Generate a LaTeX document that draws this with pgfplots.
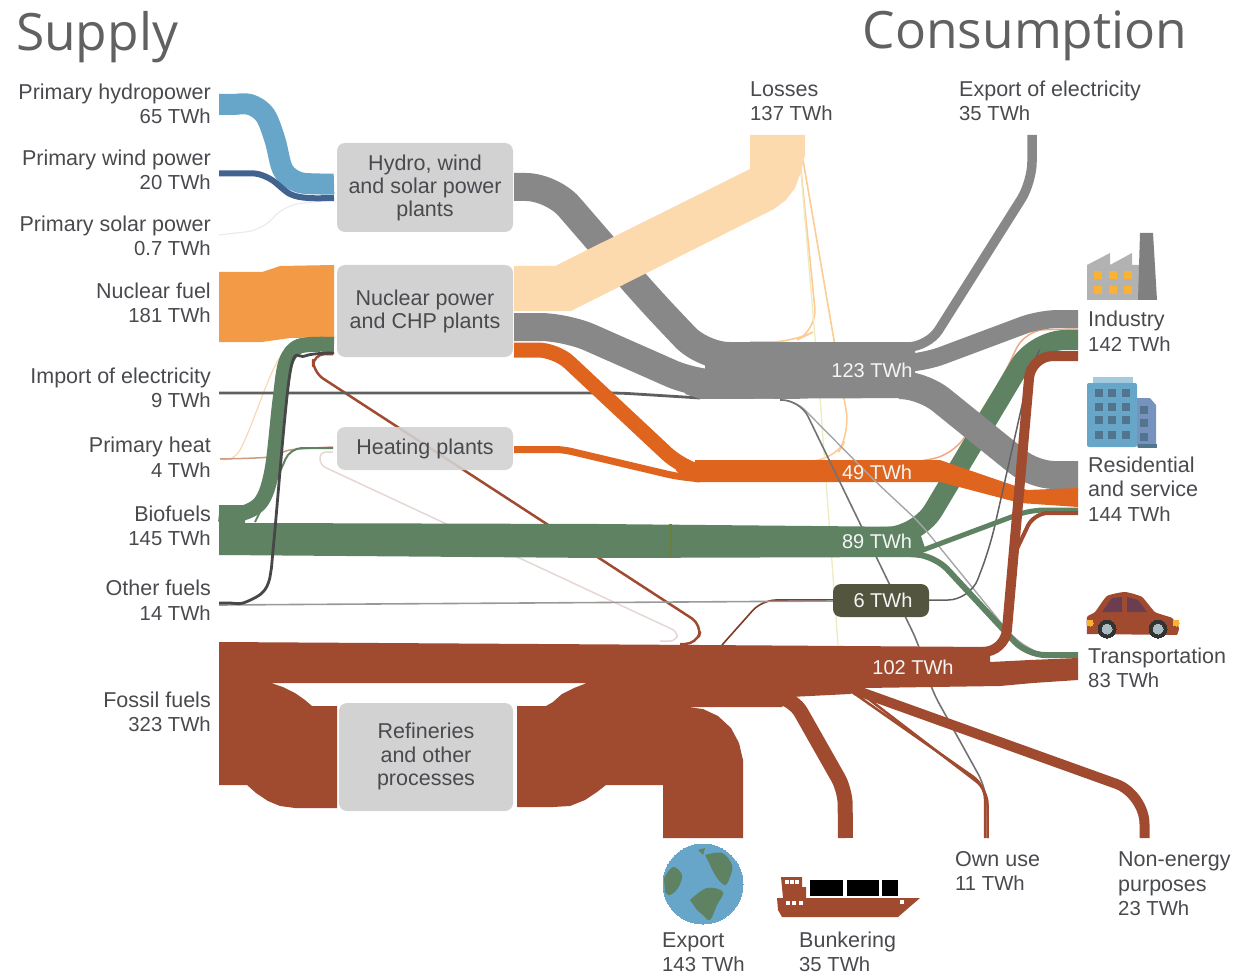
\documentclass[border=0pt]{standalone}
\usepackage{pgfplots}
\pgfplotsset{compat=1.18}
\usepackage{fontspec}
\setmainfont{Liberation Sans}
\newfontfamily\titlefont{Open Sans}
\definecolor{blueA}{HTML}{67A6C9}
\definecolor{blueB}{HTML}{42628F}
\definecolor{nuc}{HTML}{F29A46}
\definecolor{loss}{HTML}{FDD9AE}
\definecolor{gry}{HTML}{888888}
\definecolor{org}{HTML}{DF651F}
\definecolor{grn}{HTML}{5E8262}
\definecolor{brn}{HTML}{A04B30}
\definecolor{boxc}{HTML}{D2D2D2}
\definecolor{txt}{HTML}{484A4E}
\definecolor{six}{HTML}{54553F}
\definecolor{winA}{HTML}{F9B233}
\definecolor{winB}{HTML}{52758F}
\definecolor{sideB}{HTML}{7793BD}
\definecolor{carW}{HTML}{6B3D50}
\definecolor{wheelC}{HTML}{A9BCC2}
\pgfplotsset{
 fl/.style n args={3}{draw=#1,line width=#2pt,line cap=butt,line join=round,rounded corners=#3pt,fill=none},
 sm/.style n args={2}{draw=#1,line width=#2pt,line cap=butt,line join=round,smooth,tension=0.55,fill=none},
 pg/.style={fill=#1,draw=none},
 pr/.style n args={2}{fill=#1,draw=none,rounded corners=#2pt},
 dots/.style n args={2}{only marks,mark=square*,mark size=#2pt,mark options={fill=#1,draw=#1,line width=0pt}},
 disc/.style n args={2}{only marks,mark=*,mark size=#2pt,mark options={fill=#1,draw=#1,line width=0pt}},
}
\newcommand{\N}[1]{{\fontsize{20.3}{24.5}\selectfont #1}}
\tikzset{
 lab/.style={font=\fontsize{21.5}{24.5}\selectfont,text=txt,inner sep=0pt},
 ll/.style={lab,anchor=west,align=left},
 rl/.style={lab,anchor=east,align=right},
 cl/.style={font=\fontsize{21.5}{23.3}\selectfont,text=txt,inner sep=0pt,anchor=center,align=center},
 wl/.style={font=\fontsize{20}{24}\selectfont,text=white!92!gray,inner sep=0pt,anchor=center},
 tl/.style={font=\titlefont\fontsize{51.5}{54}\selectfont,text=black!62,inner sep=0pt,anchor=center},
}
\begin{document}
\begin{tikzpicture}
\begin{axis}[
 scale only axis,width=1258pt,height=976pt,
 xmin=0,xmax=1258,ymin=0,ymax=976,y dir=reverse,
 hide axis,clip mode=individual]
\path (axis cs:0,0) rectangle (axis cs:1258,976);
% faint lines
\addplot[fl={black!8}{1.2}{15}] coordinates {(219,235)(262,230)(285,205)(334,200)};
\addplot[fl={boxc!60!brn!40!white}{1.5}{6}] coordinates {(333,452)(320,452)(320,465)(678,632)(676,641)(660,641)};
\addplot[sm={nuc!40!white}{1.2}] coordinates {(220,459)(240,450)(273,370)(290,350)(333,345)};
% thin lines behind
\addplot[fl={loss!85!orange}{1.6}{22}] coordinates {(800,160)(817,330)(793,342)(750,342)};
\addplot[fl={loss!85!orange}{1.6}{22}] coordinates {(803,160)(850,433)(833,461)(807,461)};
\addplot[draw=yellow!55!gray!35!white,line width=1.3pt] coordinates {(800,160)(820,397)(838,645)};
\addplot[fl={org!55!white}{1.5}{20}] coordinates {(915,462)(953,455)(1003,377)(1025,330)(1078,329)};
\addplot[sm={org!55!gray!70!white}{1.5}] coordinates {(220,459)(270,457)(290,450)(333,447)};
\addplot[fl={brn}{2.5}{12}] coordinates {(333,354)(313,354)(313,372)(702,625)(697,644)(680,644)};
\addplot[fl={brn!80!black}{1.6}{14}] coordinates {(722,645)(762,600)(834,600)};
\addplot[draw=black!40,line width=1.6pt] coordinates {(219,605)(834,601)};
\addplot[fl={gry!70!black}{2.8}{10}] coordinates {(219,393)(620,393)(700,398)};
% hydro, wind
\addplot[sm={blueA}{21}] coordinates {(219,104.5)(232,104.5)(250,104.5)(265,115)(275,140)(283,170)(298,182)(320,184)(334,184)};
\addplot[sm={blueB}{6}] coordinates {(219,173.5)(230,173.5)(245,173.5)(258,174)(272,180)(290,194)(308,198)(334,198)};
% nuclear
\addplot[pg=nuc] coordinates {(219,272)(262,272)(280,266)(334,265)(334,337)(290,338)(262,342)(219,342)} -- cycle;
% green branch up (below gray)
\addplot[fl={grn}{20}{30}] coordinates {(880,537)(918,536)(1035,340)(1078,340)};
% gray flows
\addplot[fl={gry}{28}{26}] coordinates {(514,187)(552,187)(649,299)(703,356)(800,356)};
\addplot[fl={gry}{28}{26}] coordinates {(514,327)(566,327)(695,384)(800,385)};
\addplot[pg=gry] coordinates {(705,342)(915,342)(915,398)(700,399)(685,394)(705,370)} -- cycle;
\addplot[fl={gry}{9.5}{20}] coordinates {(1032,135)(1032,182)(928,347)(900,347)};
\addplot[fl={gry}{18}{18}] coordinates {(905,363)(925,362)(1040,319)(1078,319)};
\addplot[fl={gry}{28}{20}] coordinates {(900,385)(925,387)(1034,475)(1078,475)};
% losses
\addplot[pg=loss] coordinates {(514,266)(555,266)(750,169)(750,135)(805,135)(805,155)(801,172)(795,188)(786,200)(774,209)(571,311)(514,311)} -- cycle;
% orange
\addplot[fl={org}{15}{18}] coordinates {(514,350)(556,350)(680,466)(700,472)(800,472)};
\addplot[fl={org}{7}{8}] coordinates {(514,449.5)(563,449.5)(675,476)(700,479)};
\addplot[pg=org] coordinates {(695,460)(940,460)(960,467)(1027,490)(1078,488)(1078,507)(1020,503)(940,482)(695,482)} -- cycle;
% thin grays over the flows
\addplot[fl={black!35}{1.4}{14}] coordinates {(780,400)(795,400)(877,483)(920,523)(1015,640)(1040,654)};
\addplot[fl={black!55}{1.6}{18}] coordinates {(780,400)(800,400)(920,647)(930,687)(987,790)(988,838)};
\addplot[fl={black!62}{1.5}{22}] coordinates {(928,600)(970,600)(990,547)(1030,370)(1038,353)(1078,353)};
% green
\addplot[fl={grn}{2}{12}] coordinates {(255,522)(281,470)(290,448)(333,448)};
\addplot[fl={grn}{5}{14}] coordinates {(915,553)(1030,510)(1078,510)};
\addplot[fl={grn}{6}{18}] coordinates {(910,554)(935,556)(1027,655)(1078,655)};
\addplot[pg=grn] coordinates {(219,505)(245,505)(245,523)(600,524)(918,527)(925,548)(918,557)(600,558)(219,555)} -- cycle;
\addplot[sm={grn}{15}] coordinates {(219,514)(240,514)(261,502)(272,470)(280,400)(286,362)(300,346)(334,344.5)};
\addplot[pg=grn!60!olive] coordinates {(669,524)(672,524)(672,558)(669,558)} -- cycle;
% other fuels dark line
\addplot[sm={black!72}{2.8}] coordinates {(219,603)(230,603)(243,603)(262,593)(270,577)(274,540)(290,373)(305,356)(334,353)};
% brown
\addplot[fl={brn}{4}{14}] coordinates {(1014,555)(1034,513)(1078,513)};
\addplot[fl={brn}{15}{14}] coordinates {(770,695)(794,700)(845,790)(845.5,838)};
\addplot[fl={brn}{2.5}{14}] coordinates {(845,687)(985,785)(985,838)};
\addplot[fl={brn}{2.5}{14}] coordinates {(853,687)(987.5,790)(987.5,838)};
\addplot[fl={brn}{10}{30}] coordinates {(855,690)(1144.5,794)(1144.5,838)};
\addplot[fl={brn}{10}{22}] coordinates {(960,652)(1005,652)(1031,356)(1078,356)};
\addplot[pg=brn] coordinates {(219,642)(700,645)(990,647)(990,662)(1030,660)(1078,658)(1078,680)(1033,683)(1000,686)(865,688)(850,694)(790,697)(782,707)(687,707)(703,709)(718,716)(731,728)(739,743)(743,760)(743,838)(663,838)(663,785)(606,785)(597,792)(585,800)(570,806)(553,807)(517,807)(517,706)(546,706)(553,702)(562,694)(574,688)(587,683)(271,683)(283,687)(295,693)(305,700)(312,706)(337,706)(337,808)(295,808)(280,806)(268,801)(256,793)(247,785)(219,785)} -- cycle;
% boxes
\addplot[pr={boxc}{8}] coordinates {(425,143)(513,143)(513,232)(337,232)(337,143)} -- cycle;
\addplot[pr={boxc}{8}] coordinates {(425,265)(513,265)(513,357)(337,357)(337,265)} -- cycle;
\addplot[pr={boxc}{8},fill opacity=.9] coordinates {(425,427)(513,427)(513,470)(337,470)(337,427)} -- cycle;
\addplot[pr={boxc}{8}] coordinates {(425,703)(513,703)(513,811)(339,811)(339,703)} -- cycle;
\addplot[pr={six}{8}] coordinates {(880,584)(929,584)(929,617)(833,617)(833,584)} -- cycle;
% factory
\addplot[pg={black!30}] coordinates {(1087,300)(1087,265)(1110,253)(1110,265)(1132,253)(1132,265)(1140,265)(1140,300)} -- cycle;
\addplot[pg={black!50}] coordinates {(1138,300)(1140,233)(1153,233)(1157,300)} -- cycle;
\addplot[dots={winA}{3.5}] coordinates {(1098,275)(1113,275)(1128,275)(1098,290)(1113,290)(1128,290)};
% building
\addplot[pg={blueA!60!white}] coordinates {(1093,377)(1133,377)(1133,384)(1093,384)} -- cycle;
\addplot[pg={sideB}] coordinates {(1137,398)(1150,398)(1156,405)(1156,447)(1137,447)} -- cycle;
\addplot[pr={blueA}{2}] coordinates {(1110,383)(1137,383)(1137,447)(1087,447)(1087,383)} -- cycle;
\addplot[dots={winB}{3.5}] coordinates {(1099,393)(1112,393)(1126,393)(1099,407)(1112,407)(1126,407)(1099,420)(1112,420)(1126,420)(1099,435)(1112,435)(1126,435)(1144,410)(1144,423)(1144,437)};
\addplot[pg={winB}] coordinates {(1138,444)(1157,444)(1157,448)(1138,448)} -- cycle;
% car
\addplot[pg={brn},smooth,tension=.3] coordinates {(1087,634)(1087,617)(1095,612)(1107,596)(1125,592)(1142,597)(1155,612)(1172,618)(1179,628)(1177,635)} -- cycle;
\addplot[pg={carW}] coordinates {(1102,612)(1112,598)(1122,597)(1122,612)} -- cycle;
\addplot[pg={carW}] coordinates {(1127,612)(1127,597)(1138,600)(1147,612)} -- cycle;
\addplot[disc={black!80}{9}] coordinates {(1107,629)(1158,629)};
\addplot[disc={wheelC}{5}] coordinates {(1107,629)(1158,629)};
\addplot[disc={winA}{3}] coordinates {(1090,623)(1176,623)};
% globe
\addplot[disc={blueA}{40}] coordinates {(703,884)};
\addplot[pg=grn,smooth,tension=.6] coordinates {(705,855)(722,853)(732,865)(730,877)(725,885)(717,878)(710,865)} -- cycle;
\addplot[pg=grn,smooth,tension=.6] coordinates {(690,900)(707,888)(723,892)(717,905)(710,920)(703,915)(697,910)} -- cycle;
\addplot[pg=grn,smooth,tension=.6] coordinates {(664,878)(673,867)(682,875)(678,888)(670,895)(665,892)} -- cycle;
\addplot[pg=grn] coordinates {(698,850)(705,848)(703,855)} -- cycle;
% ship
\addplot[pg=brn] coordinates {(777,898)(920,898)(898,917)(782,917)(778,910)} -- cycle;
\addplot[pg=brn] coordinates {(781,877)(802,877)(802,887)(806,887)(806,898)(783,898)} -- cycle;
\addplot[pg=black] coordinates {(810,880)(843,880)(843,896)(810,896)} -- cycle;
\addplot[pg=black] coordinates {(847,880)(879,880)(879,896)(847,896)} -- cycle;
\addplot[pg=black] coordinates {(882,880)(898,880)(898,896)(882,896)} -- cycle;
\addplot[dots={white}{1.3}] coordinates {(787,882)(792,882)(797,882)(788,903)(794,903)(801,903)(902,902)};
% titles
\node[tl] at (axis cs:97,37) {Supply};
\node[tl] at (axis cs:1025,36) {Consumption};
% labels
\node[rl] at (axis cs:211,104) {Primary hydropower\\\N{65 TWh}};
\node[rl] at (axis cs:211,170) {Primary wind power\\\N{20 TWh}};
\node[rl] at (axis cs:211,236) {Primary solar power\\\N{0.7 TWh}};
\node[rl] at (axis cs:211,303) {Nuclear fuel\\\N{181 TWh}};
\node[rl] at (axis cs:211,388) {Import of electricity\\\N{9 TWh}};
\node[rl] at (axis cs:211,457) {Primary heat\\\N{4 TWh}};
\node[rl] at (axis cs:211,526) {Biofuels\\\N{145 TWh}};
\node[rl] at (axis cs:211,600) {Other fuels\\\N{14 TWh}};
\node[rl] at (axis cs:211,712) {Fossil fuels\\\N{323 TWh}};
\node[ll] at (axis cs:750,101) {Losses\\\N{137 TWh}};
\node[ll] at (axis cs:959,101) {Export of electricity\\\N{35 TWh}};
\node[ll] at (axis cs:1088,331) {Industry\\\N{142 TWh}};
\node[ll] at (axis cs:1088,489) {Residential\\and service\\\N{144 TWh}};
\node[ll] at (axis cs:1088,668) {Transportation\\\N{83 TWh}};
\node[ll] at (axis cs:662,952) {Export\\\N{143 TWh}};
\node[ll] at (axis cs:799,952) {Bunkering\\\N{35 TWh}};
\node[ll] at (axis cs:955,871) {Own use\\\N{11 TWh}};
\node[ll] at (axis cs:1118,884) {Non-energy\\purposes\\\N{23 TWh}};
\node[cl] at (axis cs:425,188) {Hydro, wind\\and solar power\\plants};
\node[cl] at (axis cs:425,311.5) {Nuclear power\\and CHP plants};
\node[cl] at (axis cs:425,449) {Heating plants};
\node[cl] at (axis cs:426,756.5) {Refineries\\and other\\processes};
\node[wl] at (axis cs:872,370) {123 TWh};
\node[wl] at (axis cs:877,472) {49 TWh};
\node[wl] at (axis cs:877,541) {89 TWh};
\node[wl] at (axis cs:883,600) {6 TWh};
\node[wl] at (axis cs:913,667) {102 TWh};
\end{axis}
\end{tikzpicture}
\end{document}
